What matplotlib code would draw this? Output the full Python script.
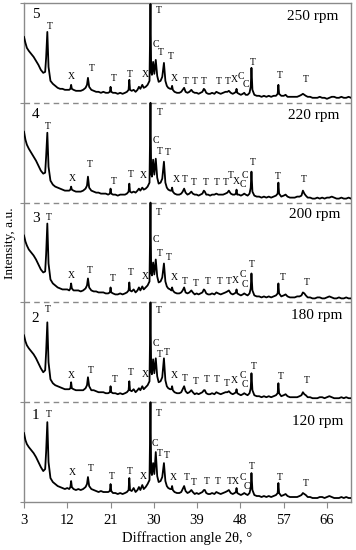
import matplotlib
matplotlib.use("Agg")
import matplotlib.pyplot as plt
import numpy as np

plt.rcParams['font.family'] = ['Liberation Serif', 'DejaVu Serif']

# Diffraction angle 2theta grid (shared by all patterns)
two_theta = [
    3.0, 3.3, 3.6, 4.0, 4.5, 5.0, 5.5, 6.0, 6.5, 7.0,
    7.4, 7.6, 7.85, 8.1, 8.5, 9.0, 9.5, 10.0, 10.5, 11.0,
    11.5, 12.0, 12.4, 12.65, 12.8, 12.95, 13.3, 13.8, 14.3, 14.8,
    15.3, 15.8, 16.1, 16.3, 16.55, 17.0, 17.5, 18.0, 18.5, 19.0,
    19.5, 20.0, 20.5, 20.85, 21.0, 21.15, 21.5, 22.0, 22.5, 23.0,
    23.5, 24.0, 24.4, 24.75, 24.9, 25.05, 25.4, 25.8, 26.2, 26.6,
    26.9, 27.2, 27.6, 27.9, 28.3, 28.7, 29.1, 29.3, 29.45, 29.6,
    29.85, 30.1, 30.4, 30.7, 31.0, 31.4, 31.75, 32.1, 32.4, 32.7,
    33.0, 33.4, 33.65, 33.8, 33.95, 34.3, 34.8, 35.3, 35.7, 36.0,
    36.3, 36.6, 37.0, 37.4, 37.8, 38.1, 38.5, 38.9, 39.3, 39.7,
    40.1, 40.4, 40.6, 40.9, 41.3, 41.7, 42.1, 42.6, 43.0, 43.4,
    43.9, 44.4, 44.9, 45.3, 45.6, 46.0, 46.4, 46.8, 47.05, 47.2,
    47.35, 47.7, 48.1, 48.5, 48.8, 49.1, 49.5, 49.9, 50.15, 50.3,
    50.5, 50.9, 51.4, 51.9, 52.4, 52.9, 53.4, 53.9, 54.4, 54.9,
    55.4, 55.75, 55.9, 56.05, 56.5, 57.0, 57.4, 57.8, 58.3, 58.8,
    59.3, 59.8, 60.3, 60.7, 61.0, 61.3, 61.6, 62.0, 62.5, 63.0,
    63.5, 64.0, 64.5, 65.0, 65.5, 66.0, 66.5, 67.0, 67.5, 68.0,
    68.5, 69.0, 69.5, 70.0, 70.5, 71.0,
]

# Relative intensity (a.u.) of each pattern
i_120 = [
    0.69, 0.62, 0.58, 0.55, 0.52, 0.49, 0.45, 0.40, 0.35, 0.31,
    0.33, 0.50, 0.80, 0.40, 0.24, 0.20, 0.18, 0.16, 0.15, 0.14,
    0.13, 0.14, 0.13, 0.15, 0.21, 0.15, 0.13, 0.12, 0.13, 0.12,
    0.13, 0.15, 0.18, 0.25, 0.16, 0.13, 0.12, 0.11, 0.10, 0.11,
    0.10, 0.10, 0.10, 0.11, 0.18, 0.11, 0.09, 0.09, 0.08, 0.09,
    0.08, 0.09, 0.10, 0.12, 0.24, 0.12, 0.11, 0.14, 0.10, 0.12,
    0.15, 0.12, 0.17, 0.13, 0.15, 0.18, 0.22, 1.00, 0.30, 0.27,
    0.39, 0.28, 0.50, 0.26, 0.20, 0.21, 0.25, 0.39, 0.21, 0.16,
    0.14, 0.13, 0.13, 0.16, 0.12, 0.10, 0.09, 0.09, 0.10, 0.13,
    0.16, 0.11, 0.09, 0.10, 0.12, 0.10, 0.08, 0.09, 0.08, 0.09,
    0.10, 0.12, 0.12, 0.09, 0.08, 0.08, 0.09, 0.08, 0.10, 0.09,
    0.08, 0.09, 0.10, 0.11, 0.12, 0.09, 0.08, 0.09, 0.10, 0.14,
    0.09, 0.08, 0.07, 0.08, 0.09, 0.08, 0.07, 0.09, 0.14, 0.29,
    0.12, 0.07, 0.06, 0.06, 0.05, 0.06, 0.05, 0.06, 0.05, 0.06,
    0.07, 0.09, 0.19, 0.09, 0.06, 0.07, 0.08, 0.06, 0.05, 0.05,
    0.05, 0.05, 0.06, 0.07, 0.09, 0.08, 0.07, 0.05, 0.05, 0.04,
    0.04, 0.04, 0.05, 0.05, 0.04, 0.05, 0.06, 0.05, 0.04, 0.04,
    0.04, 0.05, 0.04, 0.05, 0.04, 0.04,
]
i_180 = [
    0.67, 0.61, 0.57, 0.54, 0.51, 0.48, 0.44, 0.39, 0.34, 0.30,
    0.32, 0.50, 0.80, 0.40, 0.23, 0.19, 0.17, 0.16, 0.15, 0.14,
    0.13, 0.13, 0.13, 0.14, 0.20, 0.14, 0.13, 0.12, 0.12, 0.12,
    0.12, 0.14, 0.17, 0.25, 0.16, 0.12, 0.12, 0.11, 0.10, 0.10,
    0.10, 0.09, 0.09, 0.10, 0.16, 0.10, 0.09, 0.09, 0.08, 0.09,
    0.08, 0.09, 0.10, 0.12, 0.21, 0.12, 0.11, 0.13, 0.10, 0.12,
    0.14, 0.12, 0.16, 0.13, 0.15, 0.17, 0.21, 1.00, 0.31, 0.28,
    0.43, 0.29, 0.44, 0.26, 0.20, 0.21, 0.25, 0.44, 0.22, 0.16,
    0.14, 0.13, 0.13, 0.16, 0.12, 0.10, 0.09, 0.09, 0.10, 0.13,
    0.16, 0.11, 0.09, 0.10, 0.12, 0.10, 0.08, 0.09, 0.08, 0.09,
    0.10, 0.12, 0.12, 0.09, 0.08, 0.08, 0.09, 0.08, 0.10, 0.09,
    0.08, 0.09, 0.10, 0.10, 0.11, 0.09, 0.08, 0.09, 0.10, 0.13,
    0.09, 0.08, 0.07, 0.08, 0.09, 0.08, 0.07, 0.09, 0.14, 0.29,
    0.12, 0.07, 0.06, 0.06, 0.05, 0.06, 0.05, 0.06, 0.05, 0.06,
    0.07, 0.09, 0.19, 0.09, 0.06, 0.07, 0.08, 0.06, 0.05, 0.05,
    0.05, 0.05, 0.06, 0.07, 0.10, 0.08, 0.07, 0.05, 0.05, 0.04,
    0.04, 0.04, 0.05, 0.05, 0.04, 0.05, 0.06, 0.05, 0.04, 0.04,
    0.04, 0.05, 0.04, 0.05, 0.04, 0.04,
]
i_200 = [
    0.67, 0.61, 0.57, 0.53, 0.50, 0.47, 0.43, 0.38, 0.33, 0.30,
    0.31, 0.48, 0.79, 0.39, 0.23, 0.19, 0.17, 0.15, 0.14, 0.13,
    0.13, 0.13, 0.12, 0.14, 0.19, 0.14, 0.12, 0.12, 0.12, 0.11,
    0.12, 0.14, 0.17, 0.24, 0.15, 0.12, 0.11, 0.11, 0.10, 0.10,
    0.10, 0.09, 0.09, 0.10, 0.15, 0.10, 0.09, 0.08, 0.08, 0.09,
    0.08, 0.09, 0.10, 0.12, 0.20, 0.12, 0.11, 0.13, 0.10, 0.12,
    0.15, 0.12, 0.16, 0.13, 0.15, 0.17, 0.21, 1.00, 0.30, 0.27,
    0.40, 0.28, 0.43, 0.26, 0.20, 0.21, 0.25, 0.39, 0.21, 0.16,
    0.14, 0.13, 0.12, 0.15, 0.12, 0.10, 0.09, 0.09, 0.10, 0.12,
    0.15, 0.10, 0.09, 0.10, 0.12, 0.10, 0.08, 0.09, 0.08, 0.09,
    0.10, 0.13, 0.12, 0.09, 0.08, 0.08, 0.09, 0.08, 0.10, 0.09,
    0.08, 0.09, 0.10, 0.11, 0.12, 0.09, 0.08, 0.09, 0.10, 0.13,
    0.09, 0.08, 0.07, 0.08, 0.09, 0.08, 0.07, 0.09, 0.14, 0.29,
    0.12, 0.07, 0.06, 0.06, 0.05, 0.06, 0.05, 0.06, 0.05, 0.06,
    0.07, 0.09, 0.19, 0.09, 0.06, 0.07, 0.08, 0.06, 0.05, 0.05,
    0.05, 0.06, 0.06, 0.07, 0.10, 0.09, 0.07, 0.05, 0.05, 0.04,
    0.04, 0.05, 0.05, 0.04, 0.04, 0.05, 0.06, 0.05, 0.04, 0.04,
    0.05, 0.04, 0.04, 0.05, 0.04, 0.04,
]
i_220 = [
    0.71, 0.63, 0.58, 0.54, 0.50, 0.46, 0.42, 0.37, 0.32, 0.29,
    0.30, 0.46, 0.70, 0.36, 0.22, 0.18, 0.16, 0.15, 0.14, 0.13,
    0.12, 0.12, 0.12, 0.13, 0.16, 0.13, 0.12, 0.11, 0.11, 0.11,
    0.12, 0.14, 0.17, 0.26, 0.15, 0.12, 0.11, 0.10, 0.10, 0.09,
    0.09, 0.09, 0.08, 0.09, 0.14, 0.09, 0.08, 0.08, 0.07, 0.08,
    0.08, 0.08, 0.09, 0.11, 0.19, 0.11, 0.10, 0.11, 0.10, 0.12,
    0.14, 0.12, 0.15, 0.13, 0.14, 0.16, 0.20, 1.00, 0.29, 0.26,
    0.43, 0.28, 0.44, 0.25, 0.19, 0.20, 0.24, 0.41, 0.20, 0.15,
    0.13, 0.12, 0.12, 0.15, 0.11, 0.09, 0.08, 0.08, 0.09, 0.11,
    0.14, 0.10, 0.08, 0.09, 0.11, 0.09, 0.08, 0.08, 0.07, 0.08,
    0.09, 0.12, 0.11, 0.08, 0.08, 0.07, 0.08, 0.08, 0.09, 0.08,
    0.08, 0.08, 0.09, 0.10, 0.12, 0.09, 0.08, 0.08, 0.09, 0.13,
    0.08, 0.08, 0.07, 0.08, 0.09, 0.08, 0.07, 0.09, 0.15, 0.31,
    0.11, 0.07, 0.06, 0.06, 0.05, 0.06, 0.05, 0.06, 0.05, 0.06,
    0.07, 0.09, 0.20, 0.09, 0.06, 0.07, 0.08, 0.06, 0.05, 0.05,
    0.05, 0.06, 0.06, 0.07, 0.12, 0.09, 0.07, 0.05, 0.05, 0.04,
    0.04, 0.05, 0.04, 0.05, 0.04, 0.05, 0.05, 0.06, 0.05, 0.04,
    0.04, 0.05, 0.04, 0.04, 0.05, 0.04,
]
i_250 = [
    0.66, 0.60, 0.55, 0.52, 0.49, 0.46, 0.42, 0.38, 0.33, 0.30,
    0.31, 0.45, 0.71, 0.36, 0.22, 0.19, 0.17, 0.15, 0.14, 0.14,
    0.13, 0.13, 0.13, 0.14, 0.18, 0.14, 0.13, 0.12, 0.12, 0.12,
    0.13, 0.15, 0.18, 0.25, 0.16, 0.13, 0.12, 0.11, 0.11, 0.10,
    0.11, 0.10, 0.10, 0.11, 0.16, 0.11, 0.10, 0.10, 0.09, 0.10,
    0.09, 0.10, 0.11, 0.13, 0.23, 0.13, 0.12, 0.13, 0.11, 0.13,
    0.16, 0.14, 0.18, 0.15, 0.16, 0.18, 0.22, 0.99, 0.31, 0.28,
    0.41, 0.29, 0.43, 0.27, 0.21, 0.22, 0.26, 0.40, 0.22, 0.17,
    0.15, 0.14, 0.14, 0.17, 0.13, 0.11, 0.10, 0.10, 0.11, 0.13,
    0.15, 0.11, 0.10, 0.11, 0.13, 0.11, 0.10, 0.10, 0.09, 0.10,
    0.11, 0.14, 0.13, 0.10, 0.09, 0.09, 0.10, 0.09, 0.11, 0.10,
    0.09, 0.10, 0.11, 0.11, 0.12, 0.10, 0.09, 0.10, 0.11, 0.14,
    0.10, 0.09, 0.08, 0.09, 0.10, 0.08, 0.08, 0.10, 0.16, 0.35,
    0.13, 0.08, 0.07, 0.07, 0.06, 0.07, 0.06, 0.07, 0.06, 0.07,
    0.07, 0.09, 0.18, 0.09, 0.07, 0.07, 0.08, 0.06, 0.06, 0.06,
    0.06, 0.06, 0.07, 0.08, 0.09, 0.08, 0.07, 0.06, 0.06, 0.05,
    0.05, 0.05, 0.06, 0.05, 0.05, 0.04, 0.05, 0.06, 0.06, 0.05,
    0.05, 0.06, 0.05, 0.05, 0.06, 0.05,
]

patterns = [i_120, i_180, i_200, i_220, i_250]
panel_numbers = ['1', '2', '3', '4', '5']
speeds = ['120 rpm', '180 rpm', '200 rpm', '220 rpm', '250 rpm']
x_ticks = [3, 12, 21, 30, 39, 48, 57, 66]

# Phase labels: (letter, 2theta, relative height) for each pattern
phase_120 = [('T', 8.06, 0.88), ('X', 13.1, 0.30), ('T', 16.9, 0.34), ('T', 21.3, 0.26),
             ('T', 24.9, 0.31), ('X', 27.9, 0.26), ('T', 31.1, 0.89), ('C', 30.15, 0.59),
             ('T', 31.3, 0.49), ('T', 32.7, 0.47), ('X', 34.0, 0.25), ('T', 36.9, 0.25),
             ('T', 38.3, 0.20), ('T', 40.9, 0.21), ('T', 43.3, 0.21), ('T', 45.8, 0.21),
             ('X', 47.0, 0.21), ('C', 48.6, 0.25), ('C', 49.25, 0.16), ('T', 50.4, 0.36),
             ('T', 56.2, 0.25), ('T', 61.5, 0.19)]
phase_180 = [('T', 7.85, 0.93), ('X', 12.9, 0.27), ('T', 16.9, 0.32), ('T', 21.8, 0.23),
             ('T', 25.3, 0.30), ('X', 28.2, 0.28), ('T', 31.0, 0.92), ('C', 30.5, 0.59),
             ('T', 31.2, 0.48), ('T', 32.7, 0.50), ('X', 34.3, 0.27), ('T', 36.5, 0.24),
             ('T', 38.7, 0.21), ('T', 41.0, 0.23), ('T', 43.0, 0.23), ('T', 45.1, 0.19),
             ('X', 46.8, 0.22), ('C', 48.5, 0.27), ('C', 49.0, 0.18), ('T', 50.8, 0.36),
             ('T', 56.3, 0.26), ('T', 61.9, 0.22)]
phase_200 = [('T', 8.06, 0.85), ('X', 12.9, 0.27), ('T', 16.75, 0.32), ('T', 21.5, 0.24),
             ('T', 25.3, 0.30), ('X', 28.2, 0.26), ('T', 31.0, 0.90), ('C', 30.5, 0.63),
             ('T', 31.2, 0.49), ('T', 33.1, 0.45), ('X', 34.3, 0.25), ('T', 36.5, 0.21),
             ('T', 38.7, 0.19), ('T', 41.2, 0.21), ('T', 43.8, 0.21), ('T', 45.6, 0.21),
             ('X', 47.0, 0.22), ('C', 48.5, 0.28), ('C', 49.0, 0.18), ('T', 50.3, 0.38),
             ('T', 56.8, 0.25), ('T', 61.75, 0.20)]
phase_220 = [('T', 7.85, 0.76), ('X', 13.1, 0.24), ('T', 16.75, 0.38), ('T', 21.6, 0.21),
             ('T', 25.1, 0.28), ('X', 27.85, 0.27), ('T', 31.3, 0.90), ('C', 30.5, 0.62),
             ('T', 31.2, 0.51), ('T', 32.85, 0.50), ('X', 34.7, 0.23), ('T', 36.5, 0.23),
             ('T', 38.3, 0.20), ('T', 40.85, 0.20), ('T', 43.1, 0.20), ('T', 44.9, 0.20),
             ('T', 45.9, 0.27), ('X', 47.1, 0.21), ('C', 48.9, 0.27), ('C', 48.5, 0.18),
             ('T', 50.6, 0.40), ('T', 55.8, 0.26), ('T', 61.2, 0.23)]
phase_250 = [('T', 8.27, 0.76), ('X', 12.9, 0.26), ('T', 17.1, 0.34), ('T', 21.75, 0.24),
             ('T', 24.9, 0.28), ('X', 28.2, 0.28), ('T', 31.0, 0.92), ('C', 30.4, 0.58),
             ('T', 31.5, 0.50), ('T', 33.55, 0.46), ('X', 34.25, 0.24), ('T', 36.6, 0.21),
             ('T', 38.5, 0.21), ('T', 40.4, 0.21), ('T', 43.5, 0.21), ('T', 45.3, 0.21),
             ('X', 46.7, 0.23), ('C', 48.0, 0.26), ('C', 49.2, 0.18), ('T', 50.6, 0.40),
             ('T', 56.2, 0.27), ('T', 61.5, 0.23)]
phase_labels = [phase_120, phase_180, phase_200, phase_220, phase_250]

number_pos = [(4.6, 0.87), (4.6, 0.84), (4.6, 0.84), (4.6, 0.88), (4.6, 0.88)]
speed_pos = [(69.5, 0.81), (69.3, 0.87), (68.8, 0.88), (68.5, 0.87), (68.4, 0.86)]

W, H = 356, 550
fig = plt.figure(figsize=(W / 100, H / 100), dpi=100)
ax = fig.add_axes([24 / W, 1 - 502 / H, (351 - 24) / W, (502 - 3) / H])

gray = '#8a8a8a'
x = np.array(two_theta)
for k, pat in enumerate(patterns):
    ax.plot(x, np.array(pat) + k, color='black', lw=1.3, zorder=3)
    for letter, px, py in phase_labels[k]:
        ax.text(px, py + k, letter, fontsize=7, ha='center', va='center', zorder=4)
    nx, ny = number_pos[k]
    ax.text(nx, ny + k, panel_numbers[k], fontsize=11, ha='left', va='center')
    sx, sy = speed_pos[k]
    ax.text(sx, sy + k, speeds[k], fontsize=11, ha='right', va='center')

for k in range(1, len(patterns)):
    ax.axhline(k, color=gray, lw=1.0, ls=(0, (4, 3)), zorder=2)

ax.set_xlim(3, 71)
ax.set_ylim(0, 5)
ax.set_xticks(x_ticks)
ax.set_xticklabels([str(t) for t in x_ticks], fontsize=10.5)
ax.set_yticks(range(0, 6))
ax.set_yticklabels([])
ax.tick_params(axis='x', direction='out', length=4, color=gray, pad=5)
ax.tick_params(axis='y', direction='out', length=3, color=gray)
for s in ax.spines.values():
    s.set_color(gray)
    s.set_linewidth(1.0)

ax.set_xlabel('Diffraction angle 2θ, °', fontsize=10.5, labelpad=3)
fig.text(10 / W, 1 - 243 / H, 'Intensity, a.u.', rotation=90, fontsize=9.5,
         ha='center', va='center')

fig.savefig('out.png', dpi=100)
